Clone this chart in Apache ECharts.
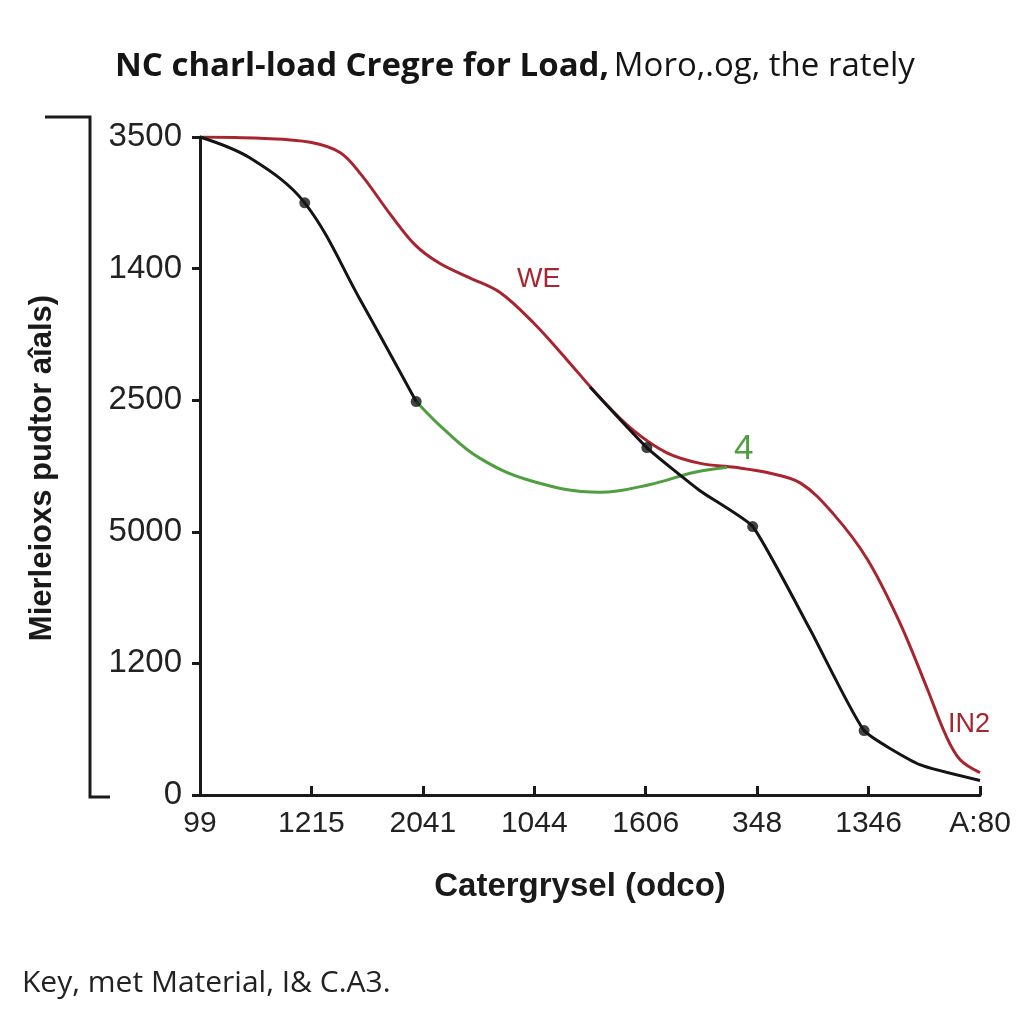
<!DOCTYPE html>
<html>
<head>
<meta charset="utf-8">
<script src="https://cdn.jsdelivr.net/npm/echarts@6/dist/echarts.min.js"></script>
<style>html,body{margin:0;padding:0;background:#fff;}#c{width:1024px;height:1024px;}</style>
</head>
<body>
<div id="c"></div>
<script>
// Category labels along the x axis (positions 0..7)
var xLabels = ["99", "1215", "2041", "1044", "1606", "348", "1346", "A:80"];
// Tick labels along the y axis (positions 0..5, bottom to top)
var yTickLabels = ["0", "1200", "5000", "2500", "1400", "3500"];

// Series values as [x position, y position]
var redSeries = [
  [0, 5.0], [0.54, 4.99], [0.99, 4.96], [1.26, 4.88], [1.45, 4.71], [1.71, 4.41],
  [1.93, 4.18], [2.15, 4.04], [2.42, 3.93], [2.69, 3.82], [2.99, 3.59], [3.29, 3.31],
  [3.59, 3.02], [3.89, 2.77], [4.19, 2.60], [4.49, 2.52], [4.80, 2.49], [5.09, 2.45],
  [5.39, 2.37], [5.68, 2.14], [5.99, 1.79], [6.28, 1.31], [6.53, 0.80], [6.69, 0.46],
  [6.82, 0.27], [7.0, 0.17]
];
var blackSeriesA = [[0, 5.0], [0.45, 4.84], [0.94, 4.50], [1.44, 3.76], [1.94, 2.99]];
var blackSeriesB = [[3.50, 3.10], [4.01, 2.64], [4.49, 2.31], [4.96, 2.04], [5.48, 1.25], [5.96, 0.49], [6.46, 0.23], [7.0, 0.11]];
var blackDots = [[0.94, 4.50], [1.94, 2.99], [4.01, 2.64], [4.96, 2.04], [5.96, 0.49]];
var greenSeries = [[1.94, 2.99], [2.20, 2.77], [2.51, 2.56], [2.96, 2.39], [3.59, 2.30], [4.04, 2.36], [4.43, 2.45], [4.73, 2.49]];

var RED = '#a8252f', BLACK = '#141414', GREEN = '#4f9e3f';
var sans = "'Liberation Sans', Arial, sans-serif";
var geo = "'Open Sans', Lato, sans-serif";

var chart = echarts.init(document.getElementById('c'), null, {renderer: 'canvas'});
chart.setOption({
  backgroundColor: '#ffffff',
  animation: false,
  title: {
    left: 110, top: 45,
    text: '{b|NC charl-load Cregre for Load,} {n|Moro,.og, the rately}',
    textStyle: {
      rich: {
        b: {fontFamily: geo, fontWeight: 'bold', fontSize: 33, color: '#151515'},
        n: {fontFamily: geo, fontWeight: 'normal', fontSize: 33, color: '#151515'}
      }
    }
  },
  grid: {left: 200, right: 44, top: 137, bottom: 229, containLabel: false},
  xAxis: {
    type: 'value', min: 0, max: 7, interval: 1,
    axisLine: {show: true, lineStyle: {color: '#1a1a1a', width: 3}},
    axisTick: {show: true, inside: true, length: 9, lineStyle: {color: '#1a1a1a', width: 3}},
    axisLabel: {
      margin: 14, fontFamily: sans, fontSize: 30, color: '#222',
      formatter: function (v) { return xLabels[Math.round(v)]; }
    },
    splitLine: {show: false}
  },
  yAxis: {
    type: 'value', min: 0, max: 5, interval: 1,
    axisLine: {show: true, onZero: false, lineStyle: {color: '#1a1a1a', width: 3}},
    axisTick: {show: true, length: 8, lineStyle: {color: '#1a1a1a', width: 3}},
    axisLabel: {
      margin: 18, fontFamily: sans, fontSize: 33, color: '#222',
      formatter: function (v) { return yTickLabels[Math.round(v)]; }
    },
    splitLine: {show: false}
  },
  graphic: [
    {type: 'polyline', shape: {points: [[45, 117], [90, 117], [90, 797], [110, 797]]}, style: {stroke: '#1a1a1a', lineWidth: 3, fill: null}},
    {type: 'text', x: 42, y: 468, rotation: Math.PI / 2,
     style: {text: 'Mierleioxs pudtor aîals)', fontFamily: sans, fontWeight: 'bold', fontSize: 31, fill: '#1a1a1a', textAlign: 'center', textVerticalAlign: 'middle'}},
    {type: 'text', x: 580, y: 887,
     style: {text: 'Catergrysel (odco)', fontFamily: sans, fontWeight: 'bold', fontSize: 33, fill: '#1a1a1a', textAlign: 'center', textVerticalAlign: 'middle'}},
    {type: 'text', left: 517, top: 266, style: {text: 'WE', fontFamily: sans, fontSize: 27, fill: RED}},
    {type: 'text', left: 734, top: 432, style: {text: '4', fontFamily: sans, fontSize: 35, fill: GREEN}},
    {type: 'text', left: 948, top: 711, style: {text: 'IN2', fontFamily: sans, fontSize: 27, fill: RED}},
    {type: 'text', left: 22, top: 968, style: {text: 'Key, met Material, I& C.A3.', fontFamily: geo, fontSize: 30, fill: '#222'}}
  ],
  series: [
    {type: 'line', data: redSeries, smooth: 0.35, showSymbol: false, lineStyle: {color: RED, width: 3}, z: 2},
    {type: 'line', data: greenSeries, smooth: 0.4, showSymbol: false, lineStyle: {color: GREEN, width: 3}, z: 3},
    {type: 'line', data: blackSeriesA, smooth: 0.35, showSymbol: false, lineStyle: {color: BLACK, width: 3}, z: 4},
    {type: 'line', data: blackSeriesB, smooth: 0.15, showSymbol: false, lineStyle: {color: BLACK, width: 3}, z: 4},
    {type: 'scatter', data: blackDots, symbol: 'circle', symbolSize: 11, itemStyle: {color: BLACK}, z: 5}
  ]
});
</script>
</body>
</html>
